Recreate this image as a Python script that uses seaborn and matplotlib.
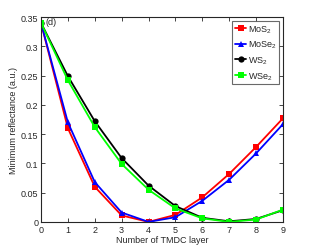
"""
Minimum reflectance vs number of TMDC layers for four TMDC materials.
"""
import matplotlib
matplotlib.use('Agg')
import matplotlib.pyplot as plt
import pandas as pd
import seaborn as sns

sns.set_style('ticks')
plt.rcParams['font.family'] = ['Liberation Sans', 'DejaVu Sans']
plt.rcParams['mathtext.fontset'] = 'custom'
plt.rcParams['mathtext.rm'] = 'Liberation Sans'

layers = [0, 1, 2, 3, 4, 5, 6, 7, 8, 9]
mos2 = [0.340, 0.160, 0.060, 0.011, 0.000, 0.012, 0.042, 0.082, 0.128, 0.177]
mose2 = [0.340, 0.170, 0.068, 0.016, 0.000, 0.008, 0.036, 0.072, 0.117, 0.167]
ws2 = [0.340, 0.249, 0.172, 0.109, 0.062, 0.027, 0.007, 0.001, 0.005, 0.020]
wse2 = [0.340, 0.242, 0.162, 0.099, 0.055, 0.023, 0.006, 0.000, 0.004, 0.021]

names = ['MoS$_2$', 'MoSe$_2$', 'WS$_2$', 'WSe$_2$']
series = [mos2, mose2, ws2, wse2]
colors = ['#ff0000', '#0000ff', '#000000', '#00ff00']
markers = ['s', '^', 'o', 's']

df = pd.concat([pd.DataFrame({'layer': layers, 'refl': v, 'mat': n})
                for n, v in zip(names, series)])

fig = plt.figure(figsize=(3.13, 2.51), dpi=100)
ax = fig.add_axes([0.131, 0.112, 0.773, 0.816])
sns.lineplot(data=df, x='layer', y='refl', hue='mat', style='mat',
             palette=colors, markers=markers, dashes=False,
             markersize=4.5, markeredgewidth=0, linewidth=1.3, ax=ax)

ax.set_xlim(0, 9)
ax.set_ylim(0, 0.35)
ax.set_xticks(range(10))
ax.set_yticks([0, 0.05, 0.1, 0.15, 0.2, 0.25, 0.3, 0.35])
ax.set_yticklabels(['0', '0.05', '0.1', '0.15', '0.2', '0.25', '0.3', '0.35'])
ax.tick_params(direction='in', top=True, right=True, labelsize=6.5,
               length=3, width=0.6, pad=2)
for s in ax.spines.values():
    s.set_linewidth(0.8)
ax.set_xlabel('Number of TMDC layer', fontsize=6.5, labelpad=1)
ax.set_ylabel('Minimum reflectance (a.u.)', fontsize=6.5, labelpad=2)
ax.text(0.15, 0.343, '(d)', fontsize=6.5, va='center')

leg = ax.legend(loc='upper right', fontsize=6.5, frameon=True, fancybox=False,
                handlelength=1.2, handletextpad=0.2, labelspacing=0.45,
                borderpad=0.3, borderaxespad=0.4, title=None)
leg.get_frame().set_edgecolor('#444444')
leg.get_frame().set_linewidth(0.8)

plt.savefig('out.png', dpi=100)
